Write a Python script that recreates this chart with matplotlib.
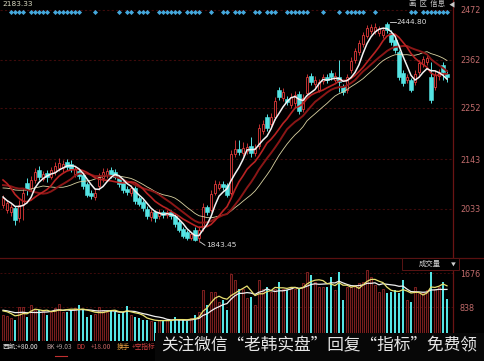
import numpy as np
import pandas as pd
import matplotlib
matplotlib.use("Agg")
import matplotlib.pyplot as plt
import matplotlib.transforms as mtransforms
from matplotlib.patches import Rectangle
from matplotlib.lines import Line2D

# closes before the visible window (only used to seed the moving averages)
warmup_close = [1964, 1972, 1969, 1958, 1975, 1967, 1972, 1964, 1980, 1972,
                2046, 2068, 2073, 2054, 2057, 1999, 1972, 1950, 1947]

open_ = [1945, 1931, 1926, 1937, 1909, 1945, 2005, 1991, 2013, 2040,
         2016, 2032, 2021, 2035, 2046, 2046, 2062, 2057, 2029, 2038,
         2027, 2002, 1978, 1967, 1997, 2019, 2027, 2040, 2035, 2019,
         2005, 1988, 1978, 1991, 1964, 1953, 1934, 1912, 1926, 1915,
         1926, 1917, 1926, 1915, 1898, 1879, 1871, 1855, 1876, 1855,
         1882, 1939, 1931, 1978, 1991, 2002, 1999, 1978, 2084, 2098,
         2087, 2092, 2106, 2087, 2106, 2147, 2185, 2166, 2185, 2259,
         2237, 2234, 2218, 2224, 2248, 2207, 2251, 2297, 2275, 2259,
         2284, 2295, 2306, 2286, 2295, 2270, 2259, 2314, 2341, 2363,
         2385, 2407, 2420, 2420, 2415, 2409, 2439, 2415, 2396, 2363,
         2306, 2286, 2286, 2281, 2308, 2330, 2336, 2295, 2267, 2297,
         2327, 2303]
close = [1964, 1950, 1939, 1904, 1945, 1978, 1986, 2013, 2035, 2021,
         2029, 2021, 2040, 2051, 2060, 2057, 2049, 2043, 2043, 2024,
         1997, 1972, 1969, 1978, 2021, 2035, 2038, 2027, 2021, 2002,
         1986, 1980, 1991, 1956, 1947, 1937, 1915, 1926, 1909, 1926,
         1917, 1926, 1915, 1893, 1876, 1860, 1855, 1865, 1849, 1876,
         1939, 1926, 1975, 2002, 2002, 1994, 1972, 2084, 2098, 2090,
         2101, 2103, 2087, 2101, 2155, 2166, 2155, 2185, 2229, 2240,
         2254, 2226, 2240, 2245, 2202, 2237, 2295, 2281, 2286, 2281,
         2295, 2286, 2295, 2297, 2281, 2254, 2295, 2338, 2366, 2387,
         2409, 2428, 2431, 2431, 2426, 2423, 2423, 2390, 2368, 2295,
         2278, 2295, 2259, 2303, 2333, 2344, 2347, 2232, 2300, 2308,
         2308, 2295]
high = [1972, 1958, 1947, 1942, 1958, 1991, 2019, 2024, 2046, 2051,
        2038, 2040, 2049, 2062, 2073, 2068, 2070, 2068, 2051, 2043,
        2032, 2008, 1986, 1991, 2032, 2046, 2046, 2049, 2043, 2024,
        2010, 1997, 1999, 1997, 1969, 1958, 1942, 1934, 1931, 1934,
        1931, 1931, 1931, 1920, 1904, 1885, 1876, 1871, 1885, 1887,
        1950, 1945, 1986, 2013, 2010, 2010, 2005, 2095, 2122, 2122,
        2117, 2114, 2131, 2111, 2166, 2177, 2193, 2196, 2240, 2267,
        2265, 2243, 2251, 2256, 2256, 2248, 2303, 2306, 2297, 2289,
        2303, 2303, 2314, 2308, 2341, 2275, 2303, 2349, 2374, 2396,
        2418, 2437, 2439, 2442, 2434, 2431, 2444.8, 2423, 2404, 2368,
        2314, 2303, 2292, 2314, 2341, 2352, 2355, 2336, 2314, 2316,
        2336, 2314]
low = [1937, 1923, 1915, 1890, 1898, 1904, 1972, 1983, 2005, 2013,
       2010, 2008, 2016, 2027, 2038, 2035, 2040, 2035, 2021, 2016,
       1988, 1967, 1961, 1958, 1986, 2008, 2019, 2019, 2016, 1994,
       1978, 1972, 1969, 1947, 1942, 1928, 1906, 1901, 1898, 1906,
       1909, 1909, 1906, 1885, 1871, 1855, 1849, 1849, 1846, 1843.45,
       1874, 1917, 1926, 1972, 1986, 1986, 1967, 1972, 2076, 2081,
       2079, 2084, 2076, 2079, 2098, 2139, 2147, 2158, 2177, 2232,
       2229, 2218, 2210, 2213, 2193, 2199, 2243, 2273, 2267, 2254,
       2275, 2278, 2286, 2281, 2254, 2245, 2251, 2306, 2333, 2355,
       2377, 2401, 2412, 2412, 2407, 2401, 2415, 2382, 2360, 2286,
       2270, 2278, 2254, 2273, 2300, 2322, 2327, 2224, 2259, 2286,
       2286, 2281]
volume = [641, 616, 567, 518, 838, 838, 592, 887, 764, 764,
          740, 641, 715, 813, 912, 715, 715, 764, 813, 887,
          764, 592, 641, 666, 838, 764, 715, 764, 715, 666,
          715, 863, 641, 592, 567, 518, 518, 493, 468, 518,
          518, 518, 493, 592, 518, 518, 493, 567, 641, 715,
          1257, 887, 1208, 1208, 961, 1011, 764, 1652, 1504, 1282,
          1282, 1060, 1085, 887, 1504, 1282, 1331, 1208, 1282, 1454,
          1282, 1257, 1331, 1282, 1282, 1430, 1701, 1627, 1454, 1331,
          1331, 1331, 1578, 1257, 1701, 1011, 1331, 1331, 1380, 1430,
          1454, 1750, 1578, 1380, 1208, 1282, 1183, 1208, 1257, 1183,
          1504, 1011, 961, 1331, 1183, 1183, 1257, 1701, 1282, 1331,
          1454, 1035]
warmup_volume = [760, 790, 740, 810, 770, 720, 790, 800, 760]

# days carrying the little blue signal diamond on the top row
signal_days = [2, 3, 4, 5, 7, 8, 9, 10, 11, 13, 14, 15, 16, 17, 18, 19,
               23, 29, 31, 32, 34, 35, 36, 39, 40, 41, 42, 43, 44,
               46, 47, 48, 49, 52, 55, 56, 58, 59, 60, 63, 64, 66, 67, 68,
               71, 72, 73, 74, 75, 76, 80, 84, 86, 87, 88, 89, 90, 93,
               102, 103, 105, 106, 107, 108, 109, 110, 111]

price_ticks = [2478, 2341, 2210, 2070, 1934]
price_labels = ["2472", "2362", "2252", "2143", "2033"]
vol_ticks = [1676, 838]
vol_labels = ["1676", "838"]

UP = "#e03a3a"
DOWN = "#55e3e3"
GRID = "#3e0b0b"
AXIS_TXT = "#c26c6c"
CJK = ["Noto Sans CJK SC", "DejaVu Sans"]

W, H = 485, 361


def fx(x):
    return x / W


def fy(y):
    return 1 - y / H


fig = plt.figure(figsize=(W / 100, H / 100), dpi=100, facecolor="black")
ax = fig.add_axes([0, fy(258), fx(453), 258 / H], facecolor="black")
axv = fig.add_axes([0, fy(341), fx(453), 83 / H], facecolor="black")

n = len(close)
idx = np.arange(n)

# price panel
for i in idx:
    o, c, h, l = open_[i], close[i], high[i], low[i]
    if c >= o:
        ax.add_patch(Rectangle((i - 0.35, o), 0.7, max(c - o, 0.8), facecolor="black",
                               edgecolor=UP, lw=0.6, zorder=2))
        ax.vlines(i, c, h, color=UP, lw=0.6, zorder=2)
        ax.vlines(i, l, o, color=UP, lw=0.6, zorder=2)
    else:
        ax.vlines(i, l, h, color=DOWN, lw=0.7, zorder=2)
        ax.add_patch(Rectangle((i - 0.38, c), 0.76, o - c, facecolor=DOWN,
                               edgecolor=DOWN, lw=0.4, zorder=2))

s = pd.Series(warmup_close + close, dtype=float)
k = len(warmup_close)
ma5 = s.rolling(5, min_periods=1).mean().values[k:]
ma10 = s.rolling(10, min_periods=1).mean().values[k:]
ma15 = s.rolling(15, min_periods=1).mean().values[k:]
ma20 = s.rolling(20, min_periods=1).mean().values[k:]
ax.plot(idx, ma20, color="#d9d2a2", lw=0.6, zorder=3)
ax.plot(idx, ma15, color="#8a1616", lw=1.4, zorder=3)
ax.plot(idx, ma10, color="#b82222", lw=1.2, zorder=3)
ax.plot(idx, ma5, color="#f2f2f2", lw=1.1, zorder=4)

ax.set_xlim(-0.75, 112.5)
ax.set_ylim(1799.7, 2504.9)
ax.hlines(price_ticks, -0.75, 112.5, color=GRID, lw=0.8, linestyles=(0, (2, 2)), zorder=1)
ax.yaxis.tick_right()
ax.set_yticks(price_ticks)
ax.set_yticklabels(price_labels)
ax.set_xticks([])
ax.tick_params(axis="y", length=0, pad=5, labelsize=5.8, labelcolor=AXIS_TXT)
for sp in ax.spines.values():
    sp.set_visible(False)

trans = mtransforms.blended_transform_factory(ax.transData, ax.transAxes)
ax.plot(signal_days, [1 - 12 / 258] * len(signal_days), "D", ms=2.6,
        color="#45a8dc", mec="none", transform=trans, clip_on=False, zorder=5)

imax = int(np.argmax(high))
imin = int(np.argmin(low))
ax.plot([imax + 0.8, imax + 2.2], [high[imax], high[imax]], color="#dcdcdc", lw=0.6)
ax.text(imax + 2.4, high[imax], f"{high[imax]:.2f}", color="#dcdcdc", fontsize=5.3,
        va="center", ha="left")
ax.plot([imin + 0.3, imin + 1.5], [low[imin], low[imin] - 9], color="#dcdcdc", lw=0.6)
ax.text(imin + 1.7, low[imin] - 9, f"{low[imin]:.2f}", color="#dcdcdc", fontsize=5.3,
        va="center", ha="left")

# volume panel
for i in idx:
    if close[i] >= open_[i]:
        axv.add_patch(Rectangle((i - 0.34, 0), 0.68, volume[i], facecolor="#1a0303",
                                edgecolor="#b83030", lw=0.45, zorder=2))
    else:
        axv.add_patch(Rectangle((i - 0.36, 0), 0.72, volume[i], facecolor=DOWN,
                                edgecolor="none", zorder=2))
v = pd.Series(warmup_volume + volume, dtype=float)
kv = len(warmup_volume)
vma5 = v.rolling(5, min_periods=1).mean().values[kv:]
vma10 = v.rolling(10, min_periods=1).mean().values[kv:]
axv.plot(idx, vma10, color="#f0f0f0", lw=0.9, zorder=3)
axv.plot(idx, vma5, color="#e8e070", lw=0.9, zorder=3)
axv.set_xlim(-0.75, 112.5)
axv.set_ylim(0, 2046)
axv.hlines(vol_ticks, -0.75, 112.5, color=GRID, lw=0.7, linestyles=(0, (2, 2)), zorder=1)
axv.yaxis.tick_right()
axv.set_yticks(vol_ticks)
axv.set_yticklabels(vol_labels)
axv.set_xticks([])
axv.tick_params(axis="y", length=0, pad=5, labelsize=5.8, labelcolor=AXIS_TXT)
for sp in axv.spines.values():
    sp.set_visible(False)

# frame lines
fig.add_artist(Line2D([fx(453), fx(453)], [fy(0), fy(341)], color="#6a1414", lw=0.9))
fig.add_artist(Line2D([0, 1], [fy(258), fy(258)], color="#5a1010", lw=0.9))

# dropdown box of the volume window
fig.add_artist(Rectangle((fx(402), fy(270)), fx(57), 12 / H, facecolor="black",
                         edgecolor="#5a1414", lw=0.7, zorder=6))
fig.text(fx(419), fy(264), "成交量", color="#d0d0d0", fontsize=5.3, family=CJK,
         va="center", zorder=7)
fig.text(fx(451), fy(264), "▼", color="#d0d0d0", fontsize=3.5, family=CJK,
         va="center", zorder=7)

# top row texts
fig.text(fx(2), fy(4), "2183.33", color="#d8d8c0", fontsize=5.3, va="center")
fig.text(fx(409), fy(4), "画  区  信息", color="#c8c8c8", fontsize=5.3, family=CJK,
         va="center")
fig.text(fx(449), fy(4), "◀", color="#c8c8c8", fontsize=4.5, family=CJK, va="center")

# indicator line under the volume window
row = [(3, "西凯:+80.00", "#e4e4e4"), (46, "BK", "#b89a9a"), (56, "+9.03", "#a89a9a"),
       (76, "DD", "#d04040"), (91, "+18.00", "#c06060"), (117, "换手", "#e8a040"),
       (132, "+空指标", "#d04040")]
for x, t, col in row:
    fig.text(fx(x), fy(347), t, color=col, fontsize=4.8, family=CJK, va="center")
fig.add_artist(Line2D([fx(55), fx(67)], [fy(356), fy(356)], color="#c03030", lw=0.8))

# watermark strip
fig.add_artist(Rectangle((fx(155), 0), fx(330), 28 / H, facecolor="#070707",
                         edgecolor="none", zorder=8))
fig.text(fx(161), fy(346), "关注微信“老韩实盘”回复“指标”免费领", color="#e6e6e6",
         fontsize=12, family=CJK, va="center", zorder=9)

fig.savefig("out.png", dpi=100, facecolor="black")
